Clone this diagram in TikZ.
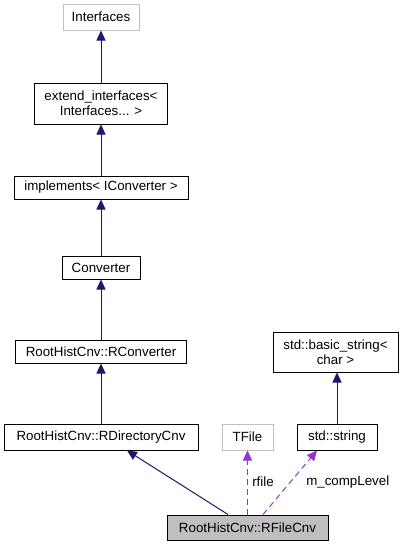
\documentclass[tikz,border=0pt]{standalone}
\usepackage{fontspec}
\setmainfont{Liberation Sans}
\usetikzlibrary{arrows.meta,calc}
\definecolor{edgeblue}{HTML}{191970}
\definecolor{edgepurple}{HTML}{9A32CD}
\definecolor{boxgray}{HTML}{BFBFBF}
\begin{document}
\begin{tikzpicture}[x=0.75pt,y=-0.75pt,
  box/.style={draw=black,line width=0.75pt,fill=white,inner sep=0pt,align=center,
    font=\fontsize{10}{11.3}\selectfont},
  ghost/.style={box,draw=boxgray},
  inh/.style={draw=edgeblue,line width=0.75pt,-{Triangle[length=7.5pt,width=6.8pt]}},
  use/.style={draw=edgepurple,line width=0.75pt,dash pattern=on 4.5pt off 3pt,-{Triangle[length=7.5pt,width=6.8pt]}},
  lbl/.style={font=\fontsize{10}{12}\selectfont,inner sep=0pt}]
\useasboundingbox (0,0) rectangle (407,547);
\node[ghost,minimum width=76*0.75pt,minimum height=26*0.75pt] (iface) at (101,17) {Interfaces};
\node[box,minimum width=133*0.75pt,minimum height=41*0.75pt] (ext) at (101,103.5) {extend\_interfaces<\\ Interfaces... >};
\node[box,minimum width=174*0.75pt,minimum height=23*0.75pt] (impl) at (101,187.5) {implements< IConverter >};
\node[box,minimum width=78*0.75pt,minimum height=23*0.75pt] (conv) at (101,267.5) {Converter};
\node[box,minimum width=171*0.75pt,minimum height=23*0.75pt] (rconv) at (101,351.5) {RootHistCnv::RConverter};
\node[box,minimum width=194*0.75pt,minimum height=26*0.75pt] (rdir) at (101,437) {RootHistCnv::RDirectoryCnv};
\node[ghost,minimum width=51*0.75pt,minimum height=26*0.75pt] (tfile) at (247.5,437) {TFile};
\node[box,minimum width=80*0.75pt,minimum height=26*0.75pt] (stdstr) at (337,437) {std::string};
\node[box,minimum width=125*0.75pt,minimum height=40*0.75pt] (bstr) at (335.5,352) {std::basic\_string<\\ char >};
\node[box,fill=boxgray,minimum width=161*0.75pt,minimum height=25*0.75pt] (rfile) at (247.5,527.5) {RootHistCnv::RFileCnv};

\draw[inh] (ext.north) -- (iface.south);
\draw[inh] (impl.north) -- (ext.south);
\draw[inh] (conv.north) -- (impl.south);
\draw[inh] (rconv.north) -- (conv.south);
\draw[inh] (rdir.north) -- (rconv.south);
\draw[inh] (stdstr.north) -- (bstr.south -| stdstr.north);
\coordinate (a1) at ($(rfile.north)+(-19.5*0.75pt,0)$);
\coordinate (b1) at ($(rdir.south)+(26*0.75pt,0)$);
\draw[inh] (a1) -- (b1);
\draw[use] (rfile.north) -- (tfile.south);
\coordinate (a2) at ($(rfile.north)+(15.5*0.75pt,0)$);
\coordinate (b2) at ($(stdstr.south)+(-20*0.75pt,0)$);
\draw[use] (a2) -- (b2);
\node[lbl,anchor=west] (l1) at (252,482) {rfile};
\node[lbl,anchor=west] (l2) at (306,482) {m\_compLevel};
\end{tikzpicture}
\end{document}
